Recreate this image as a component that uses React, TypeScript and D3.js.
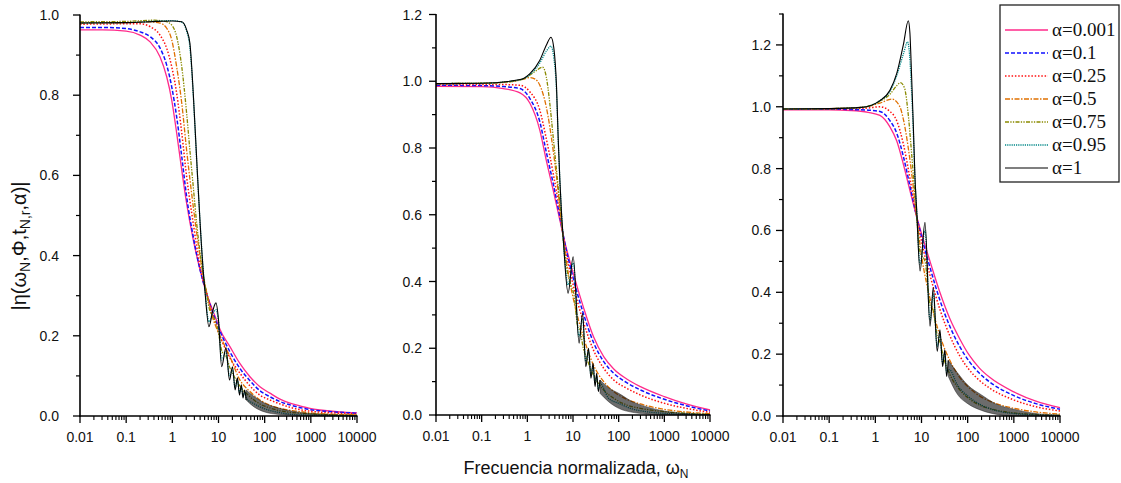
import React from 'react';
import * as d3 from 'd3';

type Pt = [number, number];
type BandPt = [number, number, number];

// ---------- tick values / labels ----------
const xTickValues = [0.01, 0.1, 1, 10, 100, 1000, 10000];
const xTickLabels = ['0.01', '0.1', '1', '10', '100', '1000', '10000'];
const yTicksP1 = [0, 0.2, 0.4, 0.6, 0.8, 1.0];
const yTicksP2 = [0, 0.2, 0.4, 0.6, 0.8, 1.0, 1.2];
const yTicksP3 = [0, 0.2, 0.4, 0.6, 0.8, 1.0, 1.2];
const alphaLabels = ['0.001', '0.1', '0.25', '0.5', '0.75', '0.95', '1'];

// ---------- panel 1 ----------
const p1_a0001: Pt[] = [[0.01,0.963],[0.03,0.963],[0.1,0.960],[0.2,0.950],[0.33,0.933],[0.54,0.896],[0.755,0.846],[0.97,0.788],[1.24,0.706],[1.6,0.613],[2.04,0.53],[2.84,0.439],[4.0,0.364],[5.5,0.306],[9.1,0.239],[10.8,0.216],[17.7,0.173],[29,0.131],[48,0.098],[79,0.073],[130,0.057],[215,0.042],[353,0.032],[582,0.025],[955,0.019],[1585,0.015],[4266,0.010],[10000,0.008]];
const p1_a01: Pt[] = [[0.01,0.969],[0.03,0.969],[0.1,0.966],[0.2,0.958],[0.33,0.946],[0.54,0.918],[0.755,0.875],[0.97,0.821],[1.24,0.746],[1.6,0.647],[2.04,0.547],[2.84,0.447],[4.0,0.364],[5.5,0.306],[9.1,0.232],[17.7,0.16],[29,0.119],[48,0.088],[79,0.063],[130,0.048],[215,0.036],[400,0.026],[955,0.016],[2000,0.012],[10000,0.007]];
const p1_a025: Pt[] = [[0.01,0.977],[0.1,0.978],[0.2,0.978],[0.33,0.971],[0.54,0.950],[0.755,0.917],[0.97,0.871],[1.24,0.805],[1.6,0.706],[2.04,0.597],[2.84,0.48],[4.0,0.372],[5.5,0.308],[9.1,0.222],[17.7,0.145],[29,0.107],[48,0.075],[79,0.052],[130,0.04],[215,0.030],[400,0.02],[955,0.012],[2000,0.009],[10000,0.005]];
const p1_a05: Pt[] = [[0.01,0.98],[0.1,0.981],[0.3,0.983],[0.54,0.98],[0.755,0.967],[0.97,0.938],[1.24,0.871],[1.6,0.78],[2.04,0.663],[2.84,0.522],[4.0,0.397],[5.5,0.31],[7.5,0.245],[10.8,0.2],[17.7,0.148],[29,0.09],[48,0.061],[79,0.04],[130,0.027],[215,0.019],[582,0.011],[1585,0.006],[10000,0.003]];
const p1_a075: Pt[] = [[0.01,0.983],[0.1,0.984],[0.4,0.987],[0.7,0.984],[0.97,0.975],[1.24,0.946],[1.6,0.871],[2.04,0.755],[2.4,0.663],[2.84,0.572],[3.37,0.48],[4.0,0.406],[4.7,0.347],[5.5,0.306],[6.5,0.262],[8.0,0.245],[9.5,0.22],[12,0.16],[14.5,0.15],[17.7,0.12],[22,0.098],[29,0.075],[48,0.048],[79,0.03],[130,0.02],[215,0.013],[582,0.007],[2000,0.004],[10000,0.002]];
const p1_a095: Pt[] = [[0.01,0.98],[0.1,0.981],[0.5,0.985],[1.0,0.986],[1.6,0.982],[2.04,0.96],[2.4,0.92],[2.84,0.8],[3.37,0.635],[4.0,0.48],[4.7,0.36],[5.1,0.315],[6.2,0.235],[7.5,0.255],[8.8,0.265],[10,0.235],[11.7,0.14],[14.5,0.16],[17.3,0.1],[20.1,0.115],[22.9,0.072],[25.7,0.088],[28.5,0.058],[31.3,0.07],[34,0.05],[36.9,0.058],[40,0.045],[60,0.03],[100,0.018],[200,0.009],[400,0.004],[1000,0.002],[10000,0.0005]];
const p1_a1: Pt[] = [[0.01,0.98],[0.1,0.981],[0.5,0.984],[1.0,0.985],[1.6,0.983],[2.04,0.963],[2.4,0.93],[2.84,0.805],[3.37,0.64],[4.0,0.48],[4.7,0.357],[5.1,0.31],[6.2,0.223],[7.5,0.262],[8.8,0.282],[10,0.24],[11.7,0.123],[14.5,0.17],[17.3,0.09],[20.1,0.123],[22.9,0.065],[25.7,0.095],[28.5,0.052],[31.3,0.078],[34,0.045],[36.9,0.065],[39.6,0.04]];
const p1_ripple: BandPt[] = [[39.6,0.04,0.065],[60,0.022,0.048],[100,0.01,0.032],[200,0.004,0.02],[400,0.002,0.012],[1000,0.0,0.006],[3000,0,0.003],[10000,0,0.001]];

// ---------- panel 2 ----------
const p2_a0001: Pt[] = [[0.01,0.985],[0.1,0.984],[0.3,0.978],[0.69,0.965],[1.14,0.934],[1.88,0.853],[2.6,0.763],[3.68,0.674],[5.15,0.584],[6.6,0.519],[10.1,0.425],[16.8,0.324],[28,0.235],[47,0.175],[78,0.138],[150,0.108],[300,0.085],[1000,0.055],[3000,0.033],[10000,0.015]];
const p2_a01: Pt[] = [[0.01,0.988],[0.1,0.987],[0.3,0.984],[0.69,0.978],[1.14,0.948],[1.88,0.878],[2.6,0.788],[3.68,0.694],[5.15,0.594],[6.4,0.525],[10.1,0.41],[16.8,0.305],[28,0.218],[47,0.16],[78,0.125],[150,0.097],[300,0.075],[1000,0.047],[3000,0.028],[10000,0.012]];
const p2_a025: Pt[] = [[0.01,0.99],[0.1,0.99],[0.3,0.99],[0.69,0.988],[1.14,0.968],[1.88,0.913],[2.6,0.828],[3.68,0.724],[5.15,0.609],[6.2,0.53],[10.1,0.39],[16.8,0.28],[28,0.195],[47,0.14],[78,0.105],[150,0.08],[300,0.06],[1000,0.035],[3000,0.02],[10000,0.008]];
const p2_a05: Pt[] = [[0.01,0.993],[0.1,0.994],[0.4,0.998],[0.8,1.006],[1.14,1.011],[1.5,1.006],[1.88,0.988],[2.6,0.923],[3.68,0.793],[4.36,0.713],[5.15,0.624],[6.1,0.53],[8,0.42],[10.1,0.35],[16.8,0.235],[28,0.15],[47,0.1],[78,0.07],[150,0.047],[300,0.033],[1000,0.017],[3000,0.009],[10000,0.004]];
const p2_a075: Pt[] = [[0.01,0.993],[0.1,0.994],[0.5,1.0],[1.0,1.013],[1.5,1.03],[2.15,1.042],[2.6,1.013],[3.1,0.934],[3.68,0.833],[4.36,0.733],[5.15,0.634],[6.1,0.53],[7.5,0.43],[9,0.39],[10.5,0.36],[12.5,0.27],[14.5,0.25],[16.8,0.2],[20,0.17],[24,0.14],[28,0.12],[47,0.075],[78,0.05],[150,0.03],[300,0.02],[1000,0.01],[3000,0.005],[10000,0.002]];
const p2_a095: Pt[] = [[0.01,0.993],[0.1,0.994],[0.69,1.004],[1.14,1.02],[1.88,1.055],[2.6,1.09],[3.3,1.105],[3.8,1.07],[4.36,0.97],[4.73,0.83],[5.15,0.705],[5.6,0.605],[6.1,0.53],[7.8,0.39],[10.1,0.455],[13.6,0.235],[16.2,0.29],[19.1,0.16],[21.9,0.19],[24.7,0.12],[27.5,0.145],[30.4,0.095],[33,0.115],[36,0.078],[39,0.095],[60,0.05],[100,0.035],[200,0.018],[400,0.01],[1000,0.005],[10000,0.001]];
const p2_a1: Pt[] = [[0.01,0.993],[0.1,0.994],[0.69,1.005],[1.14,1.023],[1.88,1.063],[2.6,1.108],[3.3,1.132],[3.8,1.1],[4.36,0.983],[4.73,0.833],[5.15,0.704],[5.6,0.605],[6.1,0.53],[7.8,0.365],[10.1,0.474],[13.6,0.215],[16.2,0.305],[19.1,0.145],[21.9,0.2],[24.7,0.11],[27.5,0.155],[30.4,0.085],[33,0.125],[36,0.07],[39,0.105]];
const p2_ripple: BandPt[] = [[39,0.065,0.105],[60,0.04,0.082],[100,0.02,0.065],[200,0.008,0.04],[400,0.003,0.025],[1000,0,0.012],[3000,0,0.005],[10000,0,0.002]];

// ---------- panel 3 ----------
const p3_a0001: Pt[] = [[0.01,0.99],[0.1,0.99],[0.3,0.988],[0.7,0.982],[1.26,0.972],[2.07,0.935],[2.9,0.89],[4.04,0.815],[5.6,0.73],[7.85,0.645],[10,0.59],[15.3,0.5],[25,0.4],[41,0.315],[67,0.25],[110,0.195],[180,0.155],[300,0.125],[1000,0.078],[3000,0.048],[10000,0.027]];
const p3_a01: Pt[] = [[0.01,0.992],[0.1,0.992],[0.3,0.991],[0.7,0.989],[1.26,0.985],[2.07,0.955],[2.9,0.915],[4.04,0.84],[5.6,0.745],[7.85,0.645],[10,0.58],[15.3,0.48],[25,0.375],[41,0.29],[67,0.225],[110,0.175],[180,0.138],[300,0.11],[1000,0.066],[3000,0.04],[10000,0.022]];
const p3_a025: Pt[] = [[0.01,0.993],[0.1,0.993],[0.3,0.994],[0.7,0.996],[1.26,1.0],[2.07,0.985],[2.9,0.955],[4.04,0.88],[5.6,0.77],[7.85,0.645],[10,0.565],[15.3,0.455],[25,0.345],[41,0.26],[67,0.195],[110,0.148],[180,0.115],[300,0.09],[1000,0.052],[3000,0.03],[10000,0.016]];
const p3_a05: Pt[] = [[0.01,0.993],[0.1,0.994],[0.5,0.998],[1.26,1.012],[2.3,1.025],[3.4,1.0],[4.04,0.96],[5.6,0.83],[7.85,0.645],[10,0.52],[15.3,0.38],[25,0.26],[41,0.18],[67,0.125],[110,0.09],[180,0.065],[300,0.048],[1000,0.025],[3000,0.013],[10000,0.006]];
const p3_a075: Pt[] = [[0.01,0.993],[0.1,0.994],[0.5,0.998],[1.26,1.018],[2.07,1.04],[2.9,1.068],[3.5,1.078],[4.3,1.06],[5.2,0.97],[6.1,0.85],[7.85,0.645],[9.3,0.53],[11.9,0.5],[15.3,0.36],[18,0.34],[22,0.26],[25,0.24],[30,0.19],[41,0.135],[67,0.085],[110,0.055],[180,0.035],[300,0.024],[1000,0.01],[3000,0.005],[10000,0.002]];
const p3_a095: Pt[] = [[0.01,0.993],[0.1,0.994],[0.5,0.998],[1.26,1.02],[2.07,1.05],[2.9,1.1],[4.04,1.17],[5.0,1.21],[5.5,1.17],[6.1,1.05],[6.65,0.92],[7.2,0.77],[7.85,0.665],[9.3,0.49],[11.9,0.6],[15.3,0.31],[18,0.395],[21.9,0.225],[25.1,0.265],[28.7,0.17],[32,0.205],[35,0.14],[40,0.15],[60,0.1],[100,0.065],[200,0.035],[400,0.018],[1000,0.008],[10000,0.001]];
const p3_a1: Pt[] = [[0.01,0.993],[0.1,0.994],[0.5,0.998],[1.26,1.02],[2.07,1.053],[2.9,1.107],[4.04,1.2],[5.18,1.278],[5.6,1.24],[6.1,1.1],[6.65,0.94],[7.2,0.777],[7.85,0.669],[9.3,0.469],[11.9,0.626],[15.3,0.29],[18,0.415],[21.9,0.209],[25.1,0.279],[28.7,0.16],[32,0.214],[35,0.128],[38,0.18]];
const p3_ripple: BandPt[] = [[38,0.128,0.18],[60,0.07,0.14],[100,0.04,0.1],[200,0.018,0.068],[400,0.006,0.04],[1000,0,0.022],[3000,0,0.008],[10000,0,0.003]];

// ---------- styles ----------
const seriesStyles = [
  { color: '#ff2a8a', dash: '', width: 1.3 },
  { color: '#1010ff', dash: '4,2', width: 1.5 },
  { color: '#ff1010', dash: '1.5,1.8', width: 1.5 },
  { color: '#e07000', dash: '5,1.5,1.5,1.5', width: 1.3 },
  { color: '#8a8a00', dash: '4,1.3,1.3,1.3,1.3,1.3', width: 1.3 },
  { color: '#008888', dash: '1.2,1', width: 1.3 },
  { color: '#000000', dash: '', width: 1.1 },
];

const panels = [
  { left: 80, right: 357, top: 15, bottom: 416, yMax: 1.0, yTicks: yTicksP1, labelGap: 21,
    series: [p1_a0001, p1_a01, p1_a025, p1_a05, p1_a075, p1_a095, p1_a1], ripple: p1_ripple },
  { left: 436, right: 710, top: 14.5, bottom: 415, yMax: 1.2, yTicks: yTicksP2, labelGap: 14,
    series: [p2_a0001, p2_a01, p2_a025, p2_a05, p2_a075, p2_a095, p2_a1], ripple: p2_ripple },
  { left: 783, right: 1060, top: 14, bottom: 416, yMax: 1.3, yTicks: yTicksP3, labelGap: 12,
    series: [p3_a0001, p3_a01, p3_a025, p3_a05, p3_a075, p3_a095, p3_a1], ripple: p3_ripple },
];

const tickFont = "'Liberation Sans', Arial, sans-serif";
const legendFont = "'Liberation Serif', 'Times New Roman', serif";

function Panel({ p }: { p: typeof panels[number] }) {
  const x = d3.scaleLog().domain([0.01, 10000]).range([p.left, p.right]);
  const y = d3.scaleLinear().domain([0, p.yMax]).range([p.bottom, p.top]);
  const line = d3.line<Pt>().x(d => x(d[0])).y(d => y(d[1])).curve(d3.curveMonotoneX);
  const area = d3.area<BandPt>().x(d => x(d[0])).y0(d => y(d[1])).y1(d => y(d[2])).curve(d3.curveMonotoneX);

  const minorX: number[] = [];
  for (let dec = 0.01; dec < 10000; dec *= 10) {
    for (let k = 2; k <= 9; k++) minorX.push(k * dec);
  }
  const minorY: number[] = [];
  for (let v = 0.1; v <= p.yMax + 1e-9; v += 0.2) minorY.push(Math.round(v * 10) / 10);

  return (
    <g>
      {p.series.map((s, i) => (
        <path key={i} d={line(s) || ''} fill="none" stroke={seriesStyles[i].color}
          strokeWidth={seriesStyles[i].width} strokeDasharray={seriesStyles[i].dash || undefined}
          strokeLinejoin="round" />
      ))}
      {/* dense ripple of alpha = 1, drawn on top like the last series */}
      <path d={area(p.ripple) || ''} fill="#111" fillOpacity={0.62} stroke="#111" strokeWidth={0.6} strokeOpacity={0.7} />
      <line x1={p.left} x2={p.left} y1={p.top - 0.5} y2={p.bottom + 0.8} stroke="#000" strokeWidth={1.6} />
      <line x1={p.left - 0.8} x2={p.right + 0.5} y1={p.bottom} y2={p.bottom} stroke="#000" strokeWidth={1.6} />
      {p.yTicks.map(v => (
        <g key={'y' + v}>
          <line x1={p.left - 7} x2={p.left} y1={y(v)} y2={y(v)} stroke="#000" strokeWidth={1.3} />
          <text x={p.left - p.labelGap} y={y(v) + 5} textAnchor="end" fontFamily={tickFont} fontSize={14} fill="#111">{v.toFixed(1)}</text>
        </g>
      ))}
      {minorY.map(v => (
        <line key={'my' + v} x1={p.left - 4} x2={p.left} y1={y(v)} y2={y(v)} stroke="#000" strokeWidth={1.2} />
      ))}
      {xTickValues.map((v, i) => (
        <g key={'x' + v}>
          <line x1={x(v)} x2={x(v)} y1={p.bottom} y2={p.bottom + 7} stroke="#000" strokeWidth={1.3} />
          <text x={x(v)} y={p.bottom + 26} textAnchor="middle" fontFamily={tickFont} fontSize={14} fill="#111">{xTickLabels[i]}</text>
        </g>
      ))}
      {minorX.map(v => (
        <line key={'mx' + v} x1={x(v)} x2={x(v)} y1={p.bottom} y2={p.bottom + 4} stroke="#000" strokeWidth={1.1} />
      ))}
    </g>
  );
}

export default function App() {
  const legend = { x: 1000, y: 5, w: 119, h: 177, row0: 30, rowStep: 23 };
  return (
    <svg width={1121} height={483} style={{ position: 'absolute', left: 0, top: 0, background: '#fff' }}>
      <rect x={0} y={0} width={1121} height={483} fill="#fff" />
      {panels.map((p, i) => <Panel key={i} p={p} />)}

      <text transform="translate(26,246) rotate(-90)" textAnchor="middle" fontFamily={tickFont} fontSize={20} fill="#111">
        |η(ω<tspan fontSize={14} dy={4}>N</tspan><tspan dy={-4}>,Φ,t</tspan><tspan fontSize={14} dy={4}>N,r</tspan><tspan dy={-4}>,α)|</tspan>
      </text>

      <text x={576} y={474} textAnchor="middle" fontFamily={tickFont} fontSize={18} fill="#111">
        Frecuencia normalizada, ω<tspan fontSize={12} dy={4}>N</tspan>
      </text>

      <rect x={legend.x} y={legend.y} width={legend.w} height={legend.h} fill="#fff" stroke="#222" strokeWidth={1.3} />
      {alphaLabels.map((a, i) => {
        const yy = legend.row0 + i * legend.rowStep;
        const st = seriesStyles[i];
        return (
          <g key={a}>
            <line x1={1005} x2={1048} y1={yy} y2={yy} stroke={st.color} strokeWidth={st.width}
              strokeDasharray={st.dash || undefined} />
            <text x={1052} y={yy + 6} fontFamily={legendFont} fontSize={19} fill="#111">{`α=${a}`}</text>
          </g>
        );
      })}
    </svg>
  );
}
